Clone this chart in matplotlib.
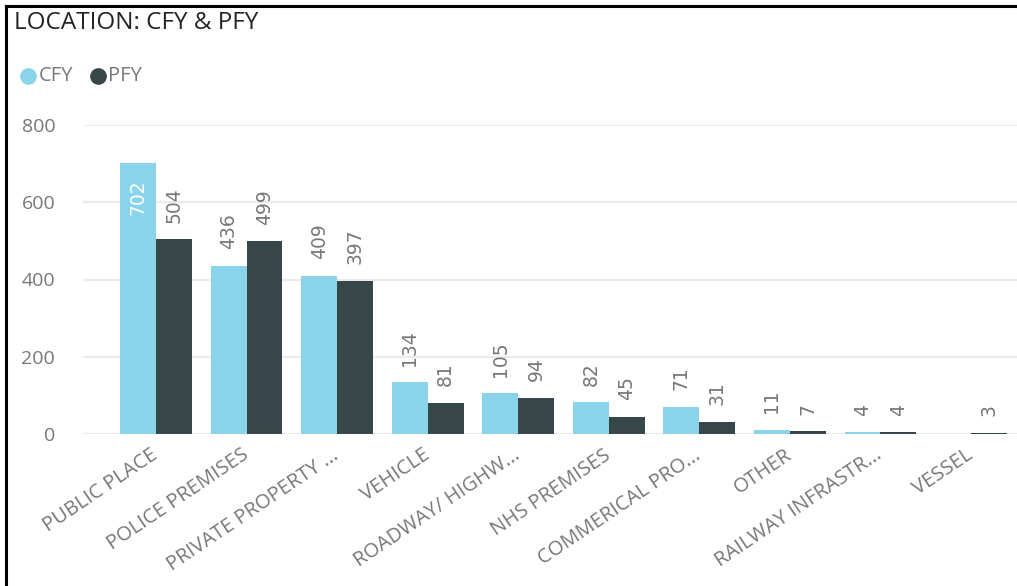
import matplotlib
matplotlib.use("Agg")
import matplotlib.pyplot as plt
from matplotlib.lines import Line2D
import numpy as np

categories = ["PUBLIC PLACE", "POLICE PREMISES", "PRIVATE PROPERTY ...", "VEHICLE",
              "ROADWAY/ HIGHW...", "NHS PREMISES", "COMMERICAL PRO...", "OTHER",
              "RAILWAY INFRASTR...", "VESSEL"]
cfy = [702, 436, 409, 134, 105, 82, 71, 11, 4, 0]
pfy = [504, 499, 397, 81, 94, 45, 31, 7, 4, 3]
yticks = [0, 200, 400, 600, 800]
series_names = ["CFY", "PFY"]

CFY_COLOR = "#8AD4EB"
PFY_COLOR = "#374649"
GRAY = "#777777"
UI_FONT = ["Open Sans", "DejaVu Sans"]

W, H = 1017, 586
fig = plt.figure(figsize=(W / 100, H / 100), dpi=100)
fig.patch.set_facecolor("white")

# axes geometry in pixels
ax_left, ax_right = 83, 1017
ax_top, ax_bottom = 125, 434
ax = fig.add_axes([ax_left / W, 1 - ax_bottom / H, (ax_right - ax_left) / W, (ax_bottom - ax_top) / H])

x = np.arange(len(categories))
bw = 0.397
ax.bar(x - bw / 2, cfy, width=bw, color=CFY_COLOR, zorder=3)
ax.bar(x + bw / 2, pfy, width=bw, color=PFY_COLOR, zorder=3)

ax.set_ylim(0, 800)
spacing = 90.6
ax.set_xlim(-(156 - ax_left) / spacing, 9 + (ax_right - 971) / spacing)
ax.set_yticks(yticks)
ax.set_yticklabels([str(v) for v in yticks])
ax.yaxis.grid(True, color="#EBEBEB", linewidth=1.6, zorder=0)
ax.set_axisbelow(True)
for s in ax.spines.values():
    s.set_visible(False)
ax.tick_params(axis="y", length=0, pad=20, labelsize=14, labelcolor=GRAY)
ax.tick_params(axis="x", length=0, pad=14)
for lbl in ax.get_yticklabels():
    lbl.set_fontfamily(UI_FONT)

ax.set_xticks(x)
ax.set_xticklabels(categories, rotation=34, ha="right", va="center", rotation_mode="anchor",
                   fontsize=14.5, color=GRAY, family=UI_FONT)

label_font = ["DejaVu Sans"]
for i in range(len(categories)):
    for val, off in ((cfy[i], -bw / 2), (pfy[i], bw / 2)):
        if val == 0:
            continue
        if val > 650:
            ax.annotate(str(val), (x[i] + off, val), xytext=(0, -12), textcoords="offset points",
                        rotation=90, ha="center", va="top", color="white", fontsize=13.5,
                        family=label_font, zorder=5)
        else:
            ax.annotate(str(val), (x[i] + off, val), xytext=(0, 12), textcoords="offset points",
                        rotation=90, ha="center", va="bottom", color=GRAY, fontsize=13.5,
                        family=label_font, zorder=5)

# Title
fig.text(14 / W, 1 - 23 / H, "LOCATION: CFY & PFY", fontsize=17.5, color="#252423",
         va="center", ha="left", family=UI_FONT)

# Legend (drawn manually for exact placement)
leg_y = 1 - 76 / H
for name, color, cx, tx in ((series_names[0], CFY_COLOR, 28, 39), (series_names[1], PFY_COLOR, 98, 108)):
    fig.add_artist(Line2D([cx / W], [leg_y], marker="o", linestyle="", markersize=11,
                          markerfacecolor=color, markeredgecolor=color, transform=fig.transFigure))
    fig.text(tx / W, leg_y, name, fontsize=14.5, color=GRAY, va="center", ha="left", family=UI_FONT)

# border lines (top and left)
fig.add_artist(Line2D([6 / W, 6 / W], [0, 1 - 6 / H], color="black", linewidth=2.2,
                      transform=fig.transFigure))
fig.add_artist(Line2D([6 / W, 1], [1 - 6 / H, 1 - 6 / H], color="black", linewidth=2.2,
                      transform=fig.transFigure))

fig.savefig("out.png", dpi=100, facecolor="white")
